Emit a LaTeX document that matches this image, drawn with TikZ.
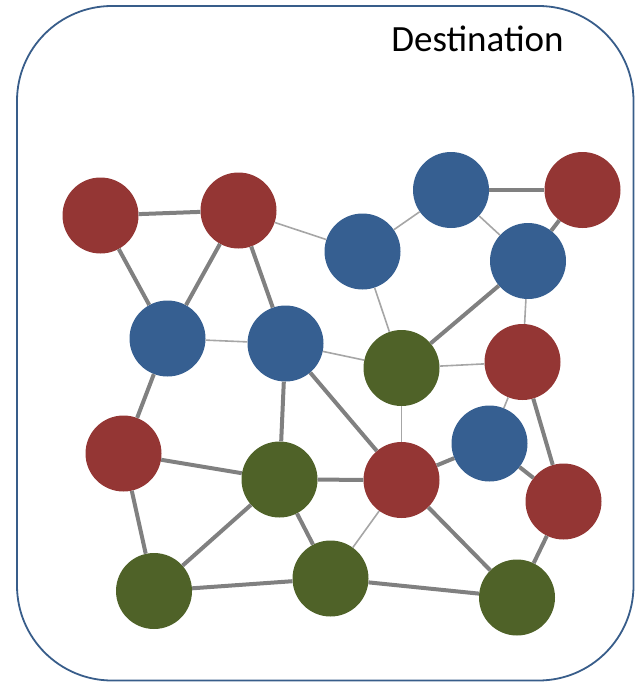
\documentclass[tikz,border=0pt]{standalone}
\usepackage{fontspec}
\setmainfont{Carlito}
\definecolor{nred}{HTML}{943634}
\definecolor{nblue}{HTML}{365F91}
\definecolor{ngreen}{HTML}{4F6228}
\definecolor{frameblue}{HTML}{385D8A}
\definecolor{thickgray}{HTML}{808080}
\definecolor{thingray}{HTML}{A6A6A6}
\tikzset{
  vtx/.style={circle, minimum size=76pt, inner sep=0pt, draw=none},
  rv/.style={vtx, fill=nred},
  bv/.style={vtx, fill=nblue},
  gv/.style={vtx, fill=ngreen},
  thk/.style={draw=thickgray, line width=4pt},
  thn/.style={draw=thingray, line width=1.6pt},
}
\begin{document}
\begin{tikzpicture}[x=1pt,y=-1pt]
\useasboundingbox (0,0) rectangle (636,682);
\draw[frameblue, line width=1.8pt, rounded corners=95pt] (17,6) rectangle (633.5,680.5);
\node[anchor=base, font=\fontsize{37}{40}\selectfont] (title) at (477.5,52) {Destination};

\node[rv] (R1) at (100.5,215.5) {};
\node[rv] (R2) at (238.5,210.5) {};
\node[bv] (B1) at (362.5,251.5) {};
\node[bv] (B2) at (451,190) {};
\node[rv] (R3) at (582.5,190) {};
\node[bv] (B3) at (528,261) {};
\node[bv] (B4) at (167.5,338.5) {};
\node[bv] (B5) at (285.5,343.5) {};
\node[gv] (G1) at (401.5,368) {};
\node[rv] (R4) at (522.5,362) {};
\node[rv] (R5) at (123.5,453.5) {};
\node[bv] (B6) at (489.5,443.5) {};
\node[gv] (G2) at (279.5,479.5) {};
\node[rv] (R6) at (401.5,480) {};
\node[rv] (R7) at (563.5,501.5) {};
\node[gv] (G3) at (154,591) {};
\node[gv] (G4) at (330.5,578.5) {};
\node[gv] (G5) at (517,597.5) {};

% thin edges
\foreach \a/\b in {R2/B1, B1/B2, B2/B3, B1/G1, B4/B5, B5/G1, G1/R4, B3/R4, R4/B6, R6/G4, G1/R6}
  \draw[thn] (\a) -- (\b);
% thick edges
\foreach \a/\b in {R1/R2, R1/B4, R2/B4, R2/B5, B2/R3, R3/B3, B3/G1, B4/R5, B5/G2, B5/R6, R5/G2, R5/G3, G2/R6, G2/G3, G2/G4, R6/B6, B6/R7, R4/R7, R6/G5, G3/G4, G4/G5, G5/R7}
  \draw[thk] (\a) -- (\b);
\end{tikzpicture}
\end{document}
